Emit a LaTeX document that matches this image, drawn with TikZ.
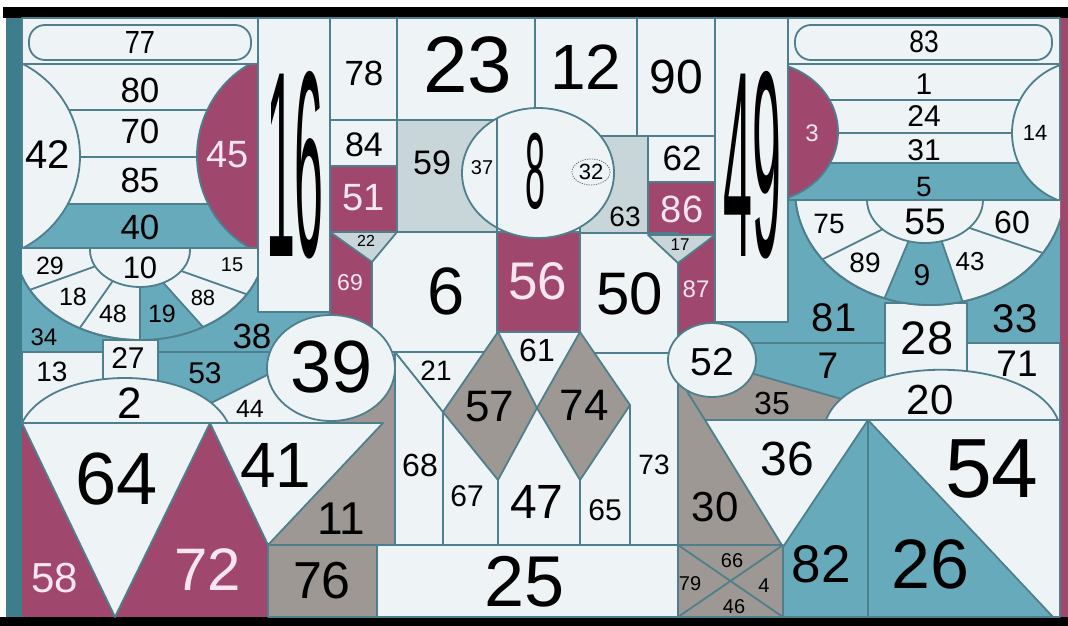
\documentclass[tikz,border=0pt]{standalone}
\usepackage{fontspec}
\setmainfont{Liberation Sans}
\definecolor{lt}{HTML}{EEF3F5}
\definecolor{tl}{HTML}{67AABB}
\definecolor{dtl}{HTML}{3D7D8C}
\definecolor{mar}{HTML}{A0476D}
\definecolor{gry}{HTML}{9D9894}
\definecolor{lgb}{HTML}{C8D5D9}
\definecolor{lnc}{HTML}{4F7F8C}
\definecolor{pw}{HTML}{F8E6EF}
\newcommand\myfs[1]{\fontsize{#1}{#1}\selectfont}
\begin{document}
\begin{tikzpicture}[x=1pt,y=-1pt,
  ln/.style={draw=lnc,line width=1.8pt,line join=round},
  bx/.style={ln,fill=lt},
  t/.style={inner sep=0pt,text=black},
  tw/.style={inner sep=0pt,text=pw}]
\useasboundingbox (0,0) rectangle (1068,626);
% frame
\fill[white] (0,0) rectangle (1068,626);
\fill[black] (3,7) rectangle (1068,18);
\fill[black] (0,617) rectangle (1068,626);
\fill[dtl] (6,18) rectangle (22,617);
\fill[mar] (1060,18) rectangle (1068,617);
\fill[lt] (22,18) rectangle (1060,617);
% ===== LEFT TOP =====
\draw[bx] (22,18) rectangle (258,64);
\draw[bx,rounded corners=16pt] (29,25) rectangle (251,60);
\fill[lt] (22,64) rectangle (258,248);
\fill[tl] (22,204) rectangle (258,248);
\draw[ln] (22,110) -- (258,110) (22,157) -- (258,157) (22,204) -- (258,204);
\begin{scope}
\clip (22,64) rectangle (258,248);
\draw[bx] (-30,156) ellipse [x radius=110,y radius=105];
\draw[ln,fill=mar] (299,156) ellipse [x radius=102,y radius=105];
\end{scope}
\draw[ln] (22,64) rectangle (258,248);
% ===== LEFT FAN =====
\fill[tl] (22,248) rectangle (333,423);
\begin{scope}
\clip (22,248) rectangle (258,423);
\draw[bx] (140,245) ellipse [x radius=125,y radius=95];
\begin{scope}
\clip (140,245) ellipse [x radius=125,y radius=95];
\fill[tl] (134,250) -- (140,250) -- (140,380) -- (239,367) -- cycle;
\draw[ln] (110,261) -- (10,297);
\draw[ln] (117,275) -- (70,342);
\draw[ln] (140,270) -- (140,360);
\draw[ln] (150,268) -- (230,357);
\draw[ln] (170,267) -- (260,299);
\end{scope}
\draw[ln] (140,245) ellipse [x radius=125,y radius=95];
\draw[bx] (140,250) ellipse [x radius=50,y radius=37];
\end{scope}
\draw[ln] (22,248) -- (258,248);
% row 13 / 27 / 53 / 44 / 2
\draw[bx] (22,352) rectangle (103,423);
\draw[bx] (103,340) rectangle (158,423);
\draw[ln] (158,352) -- (300,352);
\fill[lt] (213,402) -- (275,372) -- (331,421) -- (331,423) -- (213,423) -- cycle;
\draw[ln] (200,408.5) -- (280,368.5);
\draw[bx] (22,423) .. controls (52,363) and (198,363) .. (228,423) -- cycle;
% lower left
\fill[mar] (22,423) rectangle (268,617);
\fill[gry] (268,545) -- (395,545) -- (395,368) -- (331,368) -- (331,423) -- (383,423) -- cycle;
\draw[bx] (22,423) -- (210,423) -- (115,617) -- cycle;
\draw[bx] (210,423) -- (383,423) -- (268,545) -- cycle;
\draw[ln,fill=gry] (268,545) rectangle (377,617);
% 16
\draw[bx] (258,18) rectangle (330,312);
% column 78..69
\draw[bx] (330,18) rectangle (397,120);
\draw[bx] (330,120) rectangle (397,166);
\draw[ln,fill=mar] (330,166) rectangle (397,232);
% top middle
\draw[bx] (397,18) rectangle (535,120);
\draw[bx] (535,18) rectangle (637,136);
\draw[bx] (637,18) rectangle (715,136);
\draw[ln,fill=lgb] (397,120) rectangle (497,232);
\draw[ln,fill=lgb] (580,136) rectangle (648,233);
\draw[bx] (648,136) rectangle (715,182);
\draw[ln,fill=mar] (648,182) rectangle (715,235);
% 6, 50, 56, 87
\draw[bx] (372,232) rectangle (497,352);
\draw[ln,fill=mar] (330,232) rectangle (372,345);
\draw[ln,fill=lgb] (330,232) -- (397,232) -- (372,262) -- cycle;
\draw[bx] (580,233) rectangle (678,353);
\draw[ln,fill=mar] (678,235) rectangle (715,345);
\draw[ln,fill=lgb] (648,235) -- (715,235) -- (678,263) -- cycle;
\draw[ln,fill=mar] (497,232) rectangle (580,332);
% middle lower
\fill[lt] (395,352) rectangle (678,545);
\draw[ln] (395,352) -- (484,352);
\draw[ln] (594,353) -- (678,353);
\draw[ln] (395,352) -- (395,545);
\draw[ln] (395,352) -- (443,412);
\draw[ln] (443,412) -- (443,545) (498,480) -- (498,545) (580,480) -- (580,545) (630,405) -- (630,545);
\draw[ln] (678,340) -- (678,545);
\draw[ln,fill=gry] (498,332) -- (443,412) -- (498,480) -- (537,408) -- cycle;
\draw[ln,fill=gry] (580,332) -- (537,408) -- (580,480) -- (630,405) -- cycle;
\draw[bx] (377,545) rectangle (678,617);
% circle 8
\draw[bx] (538,173) ellipse [x radius=76,y radius=65];
\begin{scope}
\clip (538,173) ellipse [x radius=76,y radius=65];
\draw[ln] (497,100) -- (497,250);
\end{scope}
\draw[lnc!80!black,line width=0.7pt,dash pattern=on 1.2pt off 1.2pt] (591,172) ellipse [x radius=19,y radius=13];
% circle 39
\draw[bx] (331,368) ellipse [x radius=64,y radius=53];
% ===== RIGHT =====
\fill[tl] (715,200) rectangle (1060,420);
\draw[bx] (715,18) rectangle (788,322);
\draw[bx] (788,18) rectangle (1060,64);
\draw[bx,rounded corners=16pt] (795,25) rectangle (1052,60);
\fill[lt] (788,64) rectangle (1060,200);
\fill[tl] (788,163) rectangle (1060,200);
\draw[ln] (788,100) -- (1060,100) (788,133) -- (1060,133) (788,163) -- (1060,163);
\begin{scope}
\clip (788,64) rectangle (1060,200);
\draw[ln,fill=mar] (761,132) ellipse [x radius=77,y radius=70];
\draw[bx] (1084,133) ellipse [x radius=72,y radius=72];
\end{scope}
\draw[ln] (788,64) rectangle (1060,200);
% boxes below right fan
\draw[bx] (885,303) rectangle (967,390);
\draw[bx] (967,343) rectangle (1060,420);
\draw[ln] (715,343) -- (885,343);
% right fan
\begin{scope}
\clip (788,200) rectangle (1060,420);
\draw[bx] (930,190) ellipse [x radius=135,y radius=115];
\begin{scope}
\clip (930,190) ellipse [x radius=135,y radius=115];
\fill[tl] (917,221) -- (935,222) -- (970,323) -- (875,321) -- cycle;
\draw[ln] (897,222) -- (790,275.5);
\draw[ln] (917,221) -- (875,321);
\draw[ln] (935,222) -- (970,323);
\draw[ln] (955,223) -- (1075,264);
\end{scope}
\draw[ln] (930,190) ellipse [x radius=135,y radius=115];
\draw[bx] (925,200) ellipse [x radius=58,y radius=43];
\end{scope}
\draw[ln] (788,200) -- (1060,200);
% 30 / 35
\draw[ln,fill=gry] (678,376) -- (678,545) -- (783,545) -- cycle;
\draw[ln,fill=gry] (712,362) -- (845,400) -- (845,420) -- (705,420) -- (688,393) -- cycle;
% bottom right
\draw[ln,fill=tl] (783,420) rectangle (868,617);
\draw[bx] (705,420) -- (868,420) -- (783,547) -- cycle;
\draw[bx] (868,420) rectangle (1060,617);
\draw[ln,fill=tl] (868,420) -- (868,617) -- (1053,617) -- cycle;
\draw[ln,fill=gry] (678,545) rectangle (783,617);
\draw[ln] (678,545) -- (783,617) (678,617) -- (783,545);
\draw[bx] (826,420) .. controls (851,353) and (1031,353) .. (1058,420) -- cycle;
\draw[bx] (712,360) ellipse [x radius=44,y radius=37];
% ===== LABELS =====
\node[t] (l77) at (140,42) {\myfs{32}\scalebox{0.85}[1]{77}};
\node[t] (l80) at (140,90) {\myfs{35}80};
\node[t] (l70) at (140,131) {\myfs{35}70};
\node[t] (l85) at (140,180) {\myfs{35}85};
\node[t] (l40) at (140,227) {\myfs{35}40};
\node[t] (l42) at (48,155) {\myfs{40}42};
\node[tw] (l45) at (228,155) {\myfs{38}45};
\node[t] (l29) at (50,266) {\myfs{25}29};
\node[t] (l10) at (140,268) {\myfs{31}10};
\node[t] (l15) at (232,265) {\myfs{20}15};
\node[t] (l18) at (73,297) {\myfs{25}18};
\node[t] (l48) at (113,314) {\myfs{25}48};
\node[t] (l19) at (162,314) {\myfs{25}19};
\node[t] (l88) at (203,298) {\myfs{22}88};
\node[t] (l34) at (44,337) {\myfs{24}34};
\node[t] (l38) at (252,336) {\myfs{35}38};
\node[t] (l13) at (52,372) {\myfs{28}13};
\node[t] (l27) at (128,358) {\myfs{30}27};
\node[t] (l53) at (205,373) {\myfs{30}53};
\node[t] (l2) at (130,403) {\myfs{44}2};
\node[t] (l44) at (250,409) {\myfs{25}44};
\node[t] (l39) at (332,367) {\myfs{74}39};
\node[t] (l64) at (117,479) {\myfs{74}64};
\node[t] (l41) at (276,465) {\myfs{64}41};
\node[t] (l11) at (341,519) {\myfs{46}11};
\node[tw] (l58) at (55,578) {\myfs{42}58};
\node[tw] (l72) at (208,570) {\myfs{60}72};
\node[t] (l76) at (322,581) {\myfs{52}76};
\node[t] (l16) at (295,165) {\myfs{52}\scalebox{1}[5.1]{16}};
\node[t] (l78) at (364,73) {\myfs{35}78};
\node[t] (l84) at (364,145) {\myfs{34}84};
\node[tw] (l51) at (364,198) {\myfs{38}51};
\node[t] (l22) at (366,241) {\myfs{16}22};
\node[tw] (l69) at (350,283) {\myfs{23}69};
\node[t] (l6) at (446,291) {\myfs{67}6};
\node[t] (l23) at (468,65) {\myfs{80}23};
\node[t] (l12) at (586,67) {\myfs{64}12};
\node[t] (l90) at (676,77) {\myfs{48}90};
\node[t] (l59) at (432,163) {\myfs{34}59};
\node[t] (l37) at (482,168) {\myfs{20}37};
\node[t] (l8) at (536,171) {\myfs{36}\scalebox{1}[3]{8}};
\node[t] (l32) at (591,172) {\myfs{22}32};
\node[t] (l63) at (625,217) {\myfs{28}63};
\node[t] (l62) at (682,158) {\myfs{35}62};
\node[tw] (l86) at (682,209) {\myfs{38}86};
\node[t] (l17) at (680,245) {\myfs{17}17};
\node[tw] (l87) at (696,289) {\myfs{24}87};
\node[tw] (l56) at (538,281) {\myfs{53}56};
\node[t] (l50) at (630,294) {\myfs{60}50};
\node[t] (l61) at (537,350) {\myfs{32}61};
\node[t] (l21) at (436,371) {\myfs{28}21};
\node[t] (l57) at (490,407) {\myfs{44}57};
\node[t] (l74) at (584,405) {\myfs{44}74};
\node[t] (l68) at (420,465) {\myfs{32}68};
\node[t] (l67) at (467,496) {\myfs{30}67};
\node[t] (l47) at (537,502) {\myfs{48}47};
\node[t] (l65) at (605,510) {\myfs{30}65};
\node[t] (l73) at (654,465) {\myfs{28}73};
\node[t] (l25) at (525,582) {\myfs{72}25};
\node[t] (l49) at (752,165) {\myfs{52}\scalebox{1}[5.1]{49}};
\node[t] (l83) at (924,42) {\myfs{31}\scalebox{0.85}[1]{83}};
\node[t] (l1) at (924,84) {\myfs{30}1};
\node[t] (l24) at (924,116) {\myfs{30}24};
\node[t] (l31) at (924,150) {\myfs{30}31};
\node[t] (l5) at (924,187) {\myfs{28}5};
\node[tw] (l3) at (812,133) {\myfs{24}3};
\node[t] (l14) at (1035,133) {\myfs{22}14};
\node[t] (l75) at (829,224) {\myfs{28}75};
\node[t] (l55) at (925,222) {\myfs{37}55};
\node[t] (l60) at (1012,222) {\myfs{32}60};
\node[t] (l89) at (865,263) {\myfs{28}89};
\node[t] (l9) at (922,275) {\myfs{30}9};
\node[t] (l43) at (970,262) {\myfs{26}43};
\node[t] (l81) at (834,318) {\myfs{40}81};
\node[t] (l28) at (927,338) {\myfs{47}28};
\node[t] (l33) at (1015,319) {\myfs{40}33};
\node[t] (l7) at (828,366) {\myfs{37}7};
\node[t] (l71) at (1017,364) {\myfs{37}71};
\node[t] (l20) at (930,400) {\myfs{42}20};
\node[t] (l52) at (712,362) {\myfs{39}52};
\node[t] (l35) at (772,403) {\myfs{32}35};
\node[t] (l36) at (787,459) {\myfs{48}36};
\node[t] (l54) at (992,469) {\myfs{84}54};
\node[t] (l30) at (715,507) {\myfs{42}30};
\node[t] (l82) at (821,564) {\myfs{53}82};
\node[t] (l26) at (930,564) {\myfs{70}26};
\node[t] (l66) at (732,561) {\myfs{20}66};
\node[t] (l79) at (690,584) {\myfs{20}79};
\node[t] (l4) at (764,586) {\myfs{20}4};
\node[t] (l46) at (734,607) {\myfs{20}46};
\end{tikzpicture}
\end{document}
